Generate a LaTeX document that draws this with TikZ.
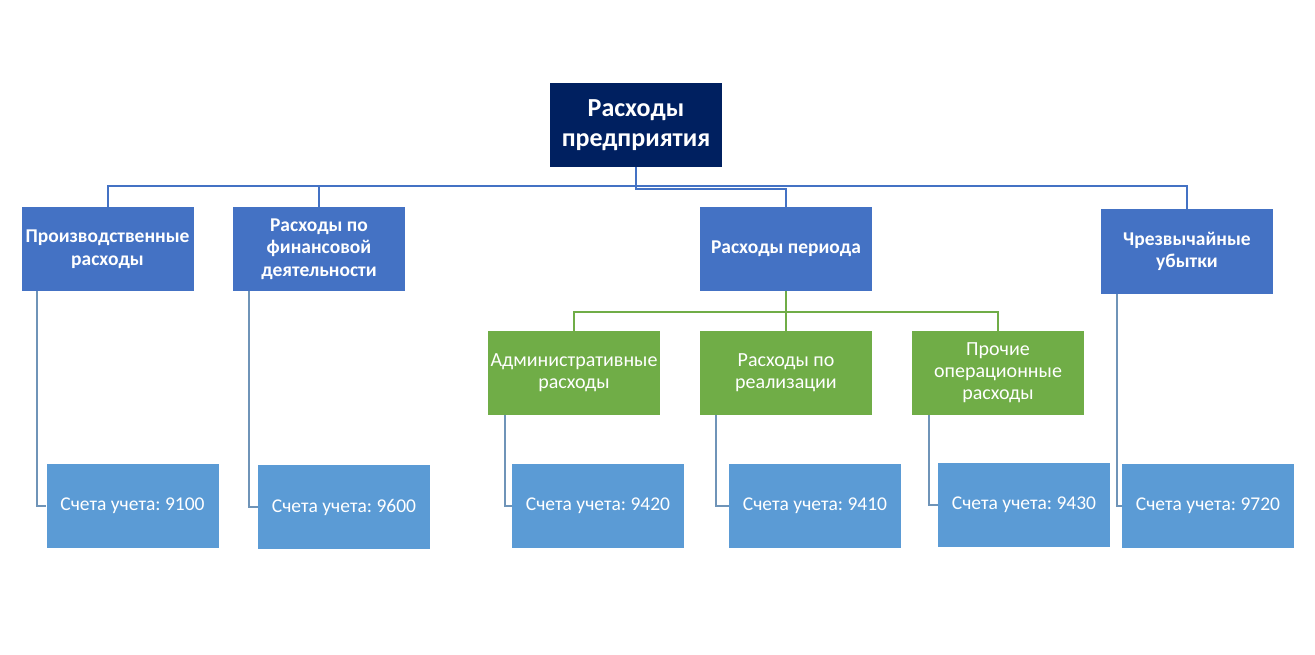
\documentclass[tikz,border=0pt]{standalone}
\usepackage{fontspec}
\setmainfont{Carlito}
\usepackage{tikz}
\usetikzlibrary{calc}
\definecolor{navy}{HTML}{002060}
\definecolor{midblue}{HTML}{4472C4}
\definecolor{lightblue}{HTML}{5B9BD5}
\definecolor{leafgreen}{HTML}{70AD47}
\definecolor{linkgrey}{HTML}{6F94B8}
\frenchspacing
\tikzset{
  box/.style={rectangle, minimum width=172pt, minimum height=84pt, inner sep=0pt, align=center, text=white},
  rootbox/.style={box, fill=navy, font=\fontsize{26}{30}\selectfont\bfseries},
  groupbox/.style={box, fill=midblue, font=\fontsize{19.5}{22.5}\selectfont\bfseries},
  subbox/.style={box, fill=leafgreen, font=\fontsize{20}{22}\selectfont},
  acctbox/.style={box, fill=lightblue, font=\fontsize{19.5}{22}\selectfont},
  bus/.style={draw=midblue, line width=2pt},
  greenbus/.style={draw=leafgreen, line width=2pt},
  link/.style={draw=linkgrey, line width=2pt}
}

\begin{document}
\begin{tikzpicture}[x=1pt, y=-1pt]
    \useasboundingbox (0,0) rectangle (1315,655);
    % top
    \node [rootbox] (root) at (636, 125) {Расходы\\предприятия};
    % second row
    \node [groupbox] (prod) at (107.5, 249) {Производственные\\расходы};
    \node [groupbox] (fin) at (319, 249) {Расходы по\\финансовой\\деятельности};
    \node [groupbox] (period) at (786, 249) {Расходы периода};
    \node [groupbox] (loss) at (1187, 251.5) {Чрезвычайные\\убытки};
    % period costs
    \node [subbox] (admin) at (574, 373) {Административные\\расходы};
    \node [subbox] (sales) at (786, 373) {Расходы по\\реализации};
    \node [subbox] (other) at (998, 373) {Прочие\\операционные\\расходы};
    % accounts
    \node [acctbox] (a9100) at (132.5, 506) {Счета учета: 9100};
    \node [acctbox] (a9600) at (344, 507) {Счета учета: 9600};
    \node [acctbox] (a9420) at (598, 506) {Счета учета: 9420};
    \node [acctbox] (a9410) at (815, 506) {Счета учета: 9410};
    \node [acctbox] (a9430) at (1024, 505) {Счета учета: 9430};
    \node [acctbox] (a9720) at (1208, 506) {Счета учета: 9720};

    % upper bus
    \coordinate (busl) at (prod.north |- 0, 186);
    \coordinate (busr) at (loss.north |- 0, 186);
    \draw [bus] (prod.north) -- (busl) -- (busr) -- (loss.north);
    \draw [bus] (fin.north) -- (fin.north |- busl);
    \draw [bus] (root.south) -- ++(0, 22) -| (period.north);
    % green bus
    \coordinate (gbus) at (0, 312);
    \draw [greenbus] (period.south) -- (period.south |- gbus);
    \draw [greenbus] (admin.north) -- (admin.north |- gbus) -- (other.north |- gbus) -- (other.north);
    \draw [greenbus] (sales.north) -- (sales.north |- gbus);
    % account links
    \draw [link] ($(prod.south west)+(16,0)$) |- (a9100.west);
    \draw [link] ($(fin.south west)+(16,0)$) |- (a9600.west);
    \draw [link] ($(admin.south west)+(17,0)$) |- (a9420.west);
    \draw [link] ($(sales.south west)+(16,0)$) |- (a9410.west);
    \draw [link] ($(other.south west)+(17,0)$) |- (a9430.west);
    \draw [link] ($(loss.south west)+(16,0)$) |- (a9720.west);
\end{tikzpicture}
\end{document}
